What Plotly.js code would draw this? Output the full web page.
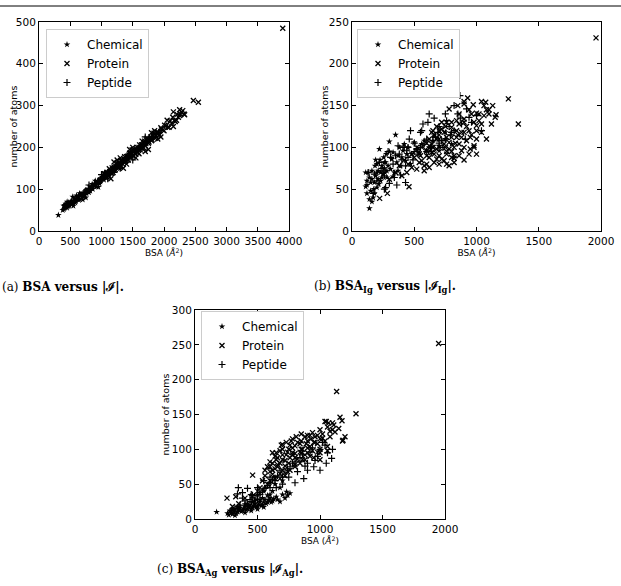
<!DOCTYPE html>
<html>
<head>
<meta charset="utf-8">
<script src="https://cdn.plot.ly/plotly-3.0.1.min.js"></script>
<style>html,body{margin:0;padding:0;background:#fff;}#chart{width:621px;height:586px;}</style>
</head>
<body>
<div id="chart"></div>
<script>
// ---------- Panel (a): BSA vs |I| ----------
const chemA_x = [310, 400, 410, 420, 430, 450, 480, 500, 520, 540, 560, 580, 600, 620, 640, 660, 690, 710, 740, 760, 790, 820, 850, 880, 910, 950, 980, 1020, 1060, 1100, 1150, 1200, 1250, 1300,
  380, 395, 415, 440, 460, 470, 490, 510, 530, 550, 570, 590, 610, 630, 650, 670, 700, 720, 730, 770, 800, 830, 860, 890, 920, 940, 970, 1000, 1040, 1080, 1120, 1180,
  450, 550, 650, 750, 850, 950, 1050, 600, 700, 900];
const chemA_y = [38, 52, 62, 58, 65, 55, 60, 70, 64, 82, 72, 68, 76, 80, 74, 84, 88, 82, 92, 90, 98, 96, 104, 108, 112, 116, 118, 126, 130, 134, 138, 146, 150, 158,
  50, 60, 55, 64, 59, 68, 62, 66, 71, 67, 76, 71, 78, 82, 77, 86, 83, 90, 86, 96, 92, 103, 100, 112, 106, 119, 113, 125, 122, 136, 132, 148,
  70, 60, 90, 80, 112, 105, 140, 85, 75, 120];
const protA_x = [700, 760, 820, 880, 930, 980, 1010, 1050, 1080, 1100, 1130, 1160, 1190, 1200, 1230, 1260, 1280, 1300, 1320, 1340, 1360, 1380, 1400, 1420, 1440, 1460, 1480, 1500, 1520, 1540, 1560, 1580, 1600, 1620, 1640, 1660, 1680, 1700, 1720, 1750, 1780, 1800, 1830, 1860, 1900, 1930, 1960, 2000, 2040, 2080, 2120, 2150, 2180, 2200, 2230, 2260, 2300, 2330, 2470, 2550, 3900,
  1050, 1070, 1090, 1110, 1125, 1145, 1170, 1185, 1210, 1220, 1245, 1270, 1290, 1310, 1330, 1350, 1370, 1390, 1410, 1430, 1450, 1470, 1490, 1510, 1530, 1550, 1570, 1590, 1610, 1630, 1650, 1670, 1690, 1710, 1730, 1760, 1790, 1810, 1840, 1870, 1890, 1920, 1950, 1980, 2010, 2060, 2100, 2140, 2170, 2210, 2250, 2280, 2320,
  1150, 1250, 1350, 1450, 1550, 1650, 1750, 1850, 1950, 2050, 1200, 1400, 1600, 1800, 1300, 1500, 1700, 1900, 2150, 2250];
const protA_y = [88, 95, 104, 108, 118, 122, 126, 134, 130, 140, 142, 138, 150, 146, 155, 152, 162, 158, 168, 160, 172, 166, 178, 170, 182, 176, 186, 180, 192, 184, 196, 188, 200, 194, 206, 198, 212, 204, 218, 210, 222, 216, 228, 222, 236, 230, 244, 240, 252, 248, 258, 285, 262, 265, 272, 280, 288, 278, 312, 308, 485,
  137, 127, 139, 134, 149, 141, 151, 140, 152, 147, 162, 152, 162, 154, 169, 165, 178, 168, 178, 170, 186, 180, 194, 181, 191, 184, 200, 194, 206, 198, 206, 200, 215, 209, 222, 213, 225, 218, 234, 227, 237, 229, 247, 242, 253, 248, 263, 272, 264, 279, 276, 284, 280,
  125, 170, 150, 195, 175, 215, 195, 240, 225, 265, 165, 160, 185, 235, 175, 200, 190, 220, 250, 290];
const pepA_x = [520, 600, 680, 750, 820, 900, 960, 1020, 1080, 1140, 1200, 1250, 1300, 1350, 1400, 1450, 1500, 1560, 1620, 1680, 1740, 1800, 1880, 1950,
  560, 640, 720, 790, 860, 940, 1000, 1060, 1110, 1170, 1230, 1280, 1330, 1380, 1430, 1480, 1530, 1590, 1650, 1710, 1770, 1840, 1920, 2050,
  1000, 1100, 1300, 1500, 1700, 800, 1200];
const pepA_y = [68, 78, 86, 96, 100, 112, 120, 128, 136, 140, 150, 156, 164, 168, 176, 180, 188, 194, 200, 208, 214, 224, 232, 240,
  72, 84, 92, 102, 108, 118, 122, 134, 142, 146, 154, 158, 170, 172, 184, 182, 190, 198, 206, 212, 222, 226, 236, 250,
  135, 125, 150, 170, 225, 110, 140];

// ---------- Panel (b): BSA_Ig vs |I_Ig| ----------
const chemB_x = [140, 110, 120, 130, 150, 160, 170, 180, 190, 200, 210, 220, 230, 240, 250, 260, 270, 280, 300, 320, 340, 350, 370, 390, 410, 430, 450, 480, 520, 560, 600, 650, 700, 750,
  120, 140, 160, 175, 185, 200, 215, 225, 240, 255, 265, 275, 290, 310, 330, 360, 380, 400, 420, 440, 470, 500, 540, 580, 620, 660, 700, 750, 800, 140, 160, 180, 110, 200,
  150, 230, 280, 330, 210, 260, 300, 370, 120, 190];
const chemB_y = [27, 53, 55, 70, 48, 62, 40, 58, 66, 52, 72, 98, 60, 78, 68, 75, 82, 64, 107, 86, 70, 115, 90, 78, 96, 84, 100, 92, 98, 104, 96, 108, 102, 110,
  60, 64, 72, 50, 78, 70, 56, 85, 64, 88, 70, 92, 78, 74, 94, 82, 100, 88, 104, 92, 80, 106, 94, 108, 100, 114, 96, 118, 104, 38, 35, 45, 70, 80,
  58, 70, 72, 65, 62, 82, 95, 72, 45, 85];
const protB_x = [222, 284, 458, 300, 350, 400, 450, 480, 500, 520, 540, 560, 580, 600, 620, 640, 660, 680, 700, 720, 740, 760, 780, 800, 820, 840, 860, 880, 900, 920, 940, 960, 980, 1000, 1020, 1040, 1060, 1080, 1100, 1120, 1157, 1150, 929, 974, 1074, 1256, 1336, 1960, 780, 850, 900, 1000, 700, 650, 820, 760, 880,
  560, 600, 620, 640, 660, 680, 700, 720, 740, 760, 780, 800, 820, 840, 860, 880, 900, 920, 940, 960, 980, 1000, 1020, 1040, 1060, 1100, 1130, 540, 580, 620, 660, 700, 740, 780, 820, 860, 900, 950, 1000, 860, 900, 940, 1040, 1080, 520, 480, 420, 380, 440, 640, 680, 720, 760, 800, 840,
  600, 650, 700, 750, 800, 850, 900, 950, 700, 750, 650, 600, 800, 900, 1000, 550, 680, 760, 830, 980];
const protB_y = [39, 45, 53, 62, 70, 66, 80, 76, 88, 74, 92, 84, 78, 96, 88, 104, 82, 98, 110, 86, 118, 92, 106, 124, 90, 112, 128, 96, 134, 108, 120, 140, 102, 126, 132, 118, 138, 110, 145, 128, 139, 136, 159, 151, 154, 158, 128, 231, 146, 150, 155, 141, 120, 100, 87, 130, 112,
  100, 90, 110, 94, 115, 86, 100, 122, 104, 80, 98, 112, 100, 120, 104, 118, 100, 125, 92, 115, 130, 110, 140, 128, 150, 140, 150, 82, 72, 76, 92, 80, 84, 78, 82, 90, 85, 98, 92, 140, 152, 145, 155, 145, 100, 92, 85, 78, 70, 118, 125, 130, 112, 95, 132,
  105, 120, 115, 100, 130, 115, 130, 112, 90, 125, 100, 80, 88, 118, 120, 90, 110, 95, 105, 100];
const pepB_x = [130, 170, 200, 240, 270, 310, 340, 380, 410, 430, 460, 490, 520, 550, 580, 610, 640, 670, 700, 730, 760, 790, 820, 850, 867, 880, 910, 940, 300, 360, 620, 560,
  180, 220, 260, 290, 330, 370, 400, 440, 470, 500, 530, 570, 600, 630, 660, 690, 720, 750, 780, 820, 870, 920, 960, 1000, 1040, 390, 430, 260, 420, 450,
  350, 450, 550, 650, 750, 500, 600, 700, 800, 250];
const pepB_y = [70, 45, 60, 75, 52, 88, 64, 92, 100, 78, 110, 85, 98, 118, 104, 130, 95, 112, 125, 100, 132, 115, 120, 140, 162, 128, 110, 136, 57, 55, 140, 120,
  68, 82, 66, 95, 80, 102, 85, 96, 120, 105, 92, 128, 110, 100, 135, 118, 108, 140, 125, 150, 135, 146, 130, 138, 120, 67, 58, 50, 100, 100,
  90, 88, 100, 108, 110, 95, 95, 105, 118, 72];

// ---------- Panel (c): BSA_Ag vs |I_Ag| ----------
const chemC_x = [173, 260, 280, 300, 320, 340, 360, 380, 400, 420, 440, 460, 480, 500, 520, 540, 560, 580, 600, 620, 650, 680, 733, 741, 560, 600, 640,
  270, 290, 310, 330, 350, 370, 390, 410, 430, 450, 470, 490, 510, 530, 550, 570, 590, 610, 630, 660, 700, 720, 760, 300, 340, 400, 460, 520, 580, 620, 680, 550, 500, 640, 700,
  350, 420, 480, 540, 600, 400, 450, 500, 550, 320];
const chemC_y = [10, 8, 12, 7, 14, 10, 16, 12, 18, 14, 20, 16, 22, 18, 25, 20, 28, 24, 30, 26, 32, 25, 39, 34, 45, 52, 60,
  6, 9, 11, 8, 13, 11, 15, 13, 17, 15, 19, 17, 21, 19, 24, 22, 27, 24, 29, 28, 35, 30, 37, 14, 17, 21, 24, 28, 34, 40, 45, 40, 35, 50, 55,
  16, 22, 26, 30, 35, 9, 12, 14, 17, 5];
const protC_x = [256, 326, 461, 500, 540, 560, 580, 600, 620, 640, 660, 680, 700, 720, 740, 760, 780, 800, 820, 840, 860, 880, 900, 920, 940, 960, 980, 1000, 1020, 1040, 1060, 1080, 1100, 1133, 1160, 1176, 1200, 1184, 1288, 1949, 700, 780, 850, 900, 1000, 650, 620,
  560, 580, 600, 620, 640, 660, 680, 700, 720, 740, 760, 780, 800, 820, 840, 860, 880, 900, 920, 940, 960, 980, 1000, 1020, 1040, 1060, 1080, 1100, 1120, 1050, 1070, 1110, 690, 730, 770, 810, 850, 890, 930, 600, 640, 680, 720, 760, 800, 840, 880, 950, 1000, 1060, 1180, 1150, 520, 460, 400, 350, 300,
  650, 700, 750, 800, 850, 900, 950, 700, 750, 800, 620, 680, 730, 780, 850, 920, 980, 600, 660, 1000];
const protC_y = [30, 32, 63, 40, 55, 70, 50, 82, 64, 90, 75, 58, 100, 84, 68, 106, 92, 78, 110, 96, 85, 118, 102, 90, 124, 110, 96, 128, 116, 140, 104, 126, 138, 183, 146, 141, 118, 113, 151, 252, 107, 115, 100, 120, 95, 85, 95,
  62, 75, 68, 80, 72, 88, 80, 92, 76, 96, 88, 102, 94, 86, 108, 100, 92, 112, 104, 98, 118, 108, 115, 122, 112, 132, 118, 128, 125, 140, 138, 135, 106, 110, 112, 118, 122, 108, 115, 55, 58, 65, 62, 70, 75, 80, 85, 88, 85, 98, 112, 130, 45, 33, 30, 22, 18,
  95, 85, 100, 105, 95, 95, 110, 70, 80, 88, 70, 98, 92, 95, 112, 120, 120, 75, 78, 100];
const pepC_x = [290, 347, 380, 420, 460, 500, 540, 580, 620, 660, 700, 740, 780, 800, 840, 880, 920, 960, 1000, 1040, 1093, 450, 520, 600,
  320, 360, 400, 440, 480, 520, 560, 600, 640, 680, 720, 760, 800, 820, 860, 900, 940, 980, 1020, 1060, 1100, 1050, 1000, 870, 380, 340, 420, 600,
  650, 700, 750, 900, 950, 550, 500, 450];
const pepC_y = [12, 45, 30, 20, 34, 28, 40, 48, 56, 62, 60, 72, 80, 52, 88, 76, 96, 84, 100, 106, 87, 25, 35, 45,
  15, 20, 26, 28, 30, 38, 44, 52, 55, 70, 66, 75, 82, 68, 92, 80, 102, 90, 110, 95, 100, 80, 70, 58, 38, 36, 44, 60,
  45, 50, 60, 70, 75, 55, 45, 35];

const seriesNames = ['Chemical', 'Protein', 'Peptide'];
const xRanges = [[0, 4000], [0, 2000], [0, 2000]];
const yRanges = [[0, 500], [0, 250], [0, 300]];
const xTicks = [[0, 500, 1000, 1500, 2000, 2500, 3000, 3500, 4000], [0, 500, 1000, 1500, 2000], [0, 500, 1000, 1500, 2000]];
const yTicks = [[0, 100, 200, 300, 400, 500], [0, 50, 100, 150, 200, 250], [0, 50, 100, 150, 200, 250, 300]];
const xTitle = 'BSA (<i>Å</i><sup>2</sup>)';
const yTitle = 'number of atoms';
const captions = ['(a) <b>BSA versus |ℐ|.</b>', '(b) <b>BSA<sub>Ig</sub> versus |ℐ<sub>Ig</sub>|.</b>', '(c) <b>BSA<sub>Ag</sub> versus |ℐ<sub>Ag</sub>|.</b>'];

const W = 621, H = 586;
const px = v => v / W, py = v => 1 - v / H;

const panelData = [
  [[chemA_x, chemA_y], [protA_x, protA_y], [pepA_x, pepA_y]],
  [[chemB_x, chemB_y], [protB_x, protB_y], [pepB_x, pepB_y]],
  [[chemC_x, chemC_y], [protC_x, protC_y], [pepC_x, pepC_y]]
];
const markers = [
  {symbol: 'star', size: 5, color: '#000', line: {width: 0}},
  {symbol: 'x-thin-open', size: 5, color: '#000', line: {width: 1.3, color: '#000'}},
  {symbol: 'cross-thin-open', size: 5, color: '#000', line: {width: 1.2, color: '#000'}}
];
const legendNames = ['legend', 'legend2', 'legend3'];
const traces = [];
panelData.forEach((pd, p) => {
  pd.forEach((s, k) => {
    traces.push({
      type: 'scatter', mode: 'markers',
      x: s[0], y: s[1], name: seriesNames[k],
      xaxis: p === 0 ? 'x' : 'x' + (p + 1),
      yaxis: p === 0 ? 'y' : 'y' + (p + 1),
      legend: legendNames[p],
      marker: markers[k]
    });
  });
});

// pixel boxes of the plot areas [left, right, top, bottom]
const boxes = [[39, 289, 22, 231], [352, 601, 22, 231], [195, 445, 310, 519]];
const legendPos = [[46, 29], [357, 29], [201, 311]];
const yTitleX = [13, 324, 165];
const fontFam = 'DejaVu Sans, sans-serif';

const layout = {
  width: W, height: H,
  margin: {l: 0, r: 0, t: 0, b: 0},
  paper_bgcolor: '#fff', plot_bgcolor: '#fff',
  font: {family: fontFam, color: '#000', size: 10},
  showlegend: true,
  shapes: [{type: 'line', xref: 'paper', yref: 'paper', x0: 0, x1: 1, y0: py(6), y1: py(6), line: {color: '#000', width: 1}}],
  annotations: []
};
boxes.forEach((b, p) => {
  const sx = p === 0 ? '' : String(p + 1);
  const axCommon = {
    showline: true, linecolor: '#000', linewidth: 1, mirror: 'ticks',
    ticks: 'inside', ticklen: 4, tickcolor: '#000', showgrid: false, zeroline: false,
    tickfont: {family: fontFam, size: 10.5, color: '#000'}
  };
  layout['xaxis' + sx] = Object.assign({}, axCommon, {
    domain: [px(b[0]), px(b[1])], range: xRanges[p], tickvals: xTicks[p],
    anchor: 'y' + sx,
    title: {text: xTitle, font: {size: 9, family: fontFam}, standoff: 2}
  });
  layout['yaxis' + sx] = Object.assign({}, axCommon, {
    domain: [py(b[3]), py(b[2])], range: yRanges[p], tickvals: yTicks[p],
    anchor: 'x' + sx
  });
  layout.annotations.push({
    text: yTitle, textangle: -90, xref: 'paper', yref: 'paper',
    x: px(yTitleX[p]), y: py((b[2] + b[3]) / 2), xanchor: 'center', yanchor: 'middle',
    showarrow: false, font: {family: fontFam, size: 9.5, color: '#000'}
  });
  layout[legendNames[p]] = {
    x: px(legendPos[p][0]), y: py(legendPos[p][1]), xanchor: 'left', yanchor: 'top',
    bgcolor: '#fff', bordercolor: '#ccc', borderwidth: 1,
    font: {family: fontFam, size: 12, color: '#000'},
    itemsizing: 'trace', tracegroupgap: 0
  };
});
// captions
const capPos = [[0, 287], [312, 287], [155, 570]];
captions.forEach((c, i) => {
  layout.annotations.push({
    text: c, xref: 'paper', yref: 'paper', x: px(capPos[i][0]), y: py(capPos[i][1]),
    xanchor: 'left', yanchor: 'middle', showarrow: false,
    font: {family: 'DejaVu Serif, Liberation Serif, serif', size: 12, color: '#000'}
  });
});

Plotly.newPlot('chart', traces, layout, {displayModeBar: false, staticPlot: true});
</script>
</body>
</html>
